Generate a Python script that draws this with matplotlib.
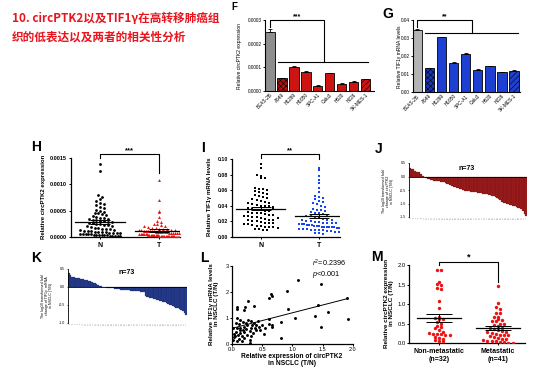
import numpy as np
import matplotlib
matplotlib.use('Agg')
import matplotlib.pyplot as plt

plt.rcParams['font.family'] = ['Liberation Sans', 'DejaVu Sans']
plt.rcParams['hatch.linewidth'] = 0.4
plt.rcParams['mathtext.fontset'] = 'custom'
plt.rcParams['mathtext.it'] = 'Liberation Sans:italic'
plt.rcParams['mathtext.rm'] = 'Liberation Sans'

# ---------------- data ----------------
title_lines = ['10. circPTK2以及TIF1γ在高转移肺癌组', '织的低表达以及两者的相关性分析']

cell_lines = ['BEAS-2B', 'A549', 'H1299', 'H1650', 'SPC-A1', 'Calu3', 'H520', 'H226', 'SK-MES-1']
circ_cell = [2.50e-4, 0.52e-4, 1.02e-4, 0.80e-4, 0.22e-4, 0.73e-4, 0.29e-4, 0.38e-4, 0.49e-4]
circ_cell_err = [0.10e-4, 0.03e-4, 0.04e-4, 0.03e-4, 0.02e-4, 0.02e-4, 0.02e-4, 0.02e-4, 0.02e-4]
tif_cell = [0.0345, 0.0133, 0.0305, 0.0163, 0.0214, 0.0125, 0.0145, 0.0112, 0.0119]
tif_cell_err = [0.0004, 0.0002, 0.0003, 0.0002, 0.0003, 0.0002, 0.0003, 0.0002, 0.0002]

circ_N = np.array([1.38, 1.25, 0.80, 0.76, 0.72, 0.68, 0.65, 0.62, 0.60, 0.57, 0.55, 0.52, 0.50, 0.48,
                   0.46, 0.45, 0.43, 0.42, 0.40, 0.38, 0.37, 0.36, 0.35, 0.34, 0.33, 0.32, 0.31, 0.30,
                   0.29, 0.28, 0.27, 0.26, 0.25, 0.24, 0.23, 0.22, 0.21, 0.20, 0.19, 0.18, 0.17, 0.16,
                   0.15, 0.15, 0.14, 0.13, 0.12, 0.12, 0.11, 0.10, 0.10, 0.09, 0.09, 0.08, 0.08, 0.07,
                   0.07, 0.06, 0.06, 0.05, 0.05, 0.05, 0.04, 0.04, 0.04, 0.03, 0.03, 0.03, 0.02, 0.02,
                   0.02, 0.01, 0.01]) * 1e-3
circ_T = np.array([1.08, 0.70, 0.50, 0.47, 0.38, 0.30, 0.28, 0.25, 0.24, 0.22, 0.21, 0.20, 0.19, 0.18,
                   0.17, 0.16, 0.15, 0.15, 0.14, 0.14, 0.13, 0.13, 0.12, 0.12, 0.12, 0.11, 0.11, 0.11,
                   0.10, 0.10, 0.10, 0.09, 0.09, 0.09, 0.08, 0.08, 0.08, 0.07, 0.07, 0.07, 0.06, 0.06,
                   0.06, 0.05, 0.05, 0.05, 0.05, 0.04, 0.04, 0.04, 0.04, 0.03, 0.03, 0.03, 0.03, 0.03,
                   0.02, 0.02, 0.02, 0.02, 0.02, 0.02, 0.01, 0.01, 0.01, 0.01, 0.01, 0.01, 0.01, 0.005,
                   0.005, 0.005, 0.005]) * 1e-3

tif_N = [0.093, 0.089, 0.079, 0.078, 0.076, 0.075, 0.063, 0.062, 0.061, 0.060, 0.059, 0.058,
         0.056, 0.055, 0.054, 0.052, 0.051, 0.050, 0.048, 0.047, 0.046, 0.045, 0.044, 0.043,
         0.042, 0.041, 0.040, 0.040, 0.039, 0.038, 0.037, 0.036, 0.035, 0.034, 0.033, 0.032,
         0.031, 0.030, 0.030, 0.029, 0.028, 0.027, 0.026, 0.025, 0.025, 0.024, 0.023, 0.022,
         0.022, 0.021, 0.020, 0.020, 0.019, 0.018, 0.018, 0.017, 0.016, 0.016, 0.015, 0.014,
         0.014, 0.013, 0.012, 0.012, 0.011, 0.010, 0.010, 0.009, 0.008, 0.028, 0.033, 0.036, 0.024]
tif_T = [0.089, 0.086, 0.078, 0.073, 0.069, 0.063, 0.058, 0.052, 0.051, 0.050, 0.048, 0.046,
         0.045, 0.043, 0.042, 0.040, 0.038, 0.036, 0.035, 0.034, 0.033, 0.032, 0.031, 0.030,
         0.029, 0.028, 0.027, 0.026, 0.025, 0.024, 0.023, 0.022, 0.022, 0.021, 0.020, 0.020,
         0.019, 0.019, 0.018, 0.018, 0.017, 0.017, 0.016, 0.016, 0.016, 0.015, 0.015, 0.015,
         0.014, 0.014, 0.014, 0.013, 0.013, 0.013, 0.012, 0.012, 0.012, 0.011, 0.011, 0.010,
         0.010, 0.010, 0.009, 0.009, 0.008, 0.008, 0.007, 0.007, 0.006, 0.006, 0.005, 0.005, 0.004]

log_fc_circ = [0.30, 0.29, 0.28, 0.20, 0.18, 0.16, 0.15, 0.10, 0.02, -0.02,
               -0.05, -0.08, -0.10, -0.12, -0.14, -0.15, -0.16, -0.17, -0.18, -0.19,
               -0.20, -0.21, -0.23, -0.26, -0.29, -0.32, -0.35, -0.38, -0.40, -0.42,
               -0.44, -0.46, -0.48, -0.50, -0.52, -0.53, -0.54, -0.55, -0.56, -0.57,
               -0.58, -0.59, -0.60, -0.61, -0.62, -0.63, -0.64, -0.65, -0.66, -0.67,
               -0.69, -0.71, -0.73, -0.76, -0.79, -0.83, -0.88, -0.93, -0.97, -0.99,
               -1.00, -1.02, -1.04, -1.06, -1.08, -1.10, -1.12, -1.15, -1.18, -1.22,
               -1.28, -1.38, -1.45]
log_fc_tif = [0.40, 0.33, 0.29, 0.27, 0.26, 0.25, 0.24, 0.23, 0.22, 0.21,
              0.20, 0.19, 0.18, 0.16, 0.14, 0.12, 0.10, 0.08, 0.06, 0.04,
              0.02, 0.00, -0.01, -0.02, -0.03, -0.03, -0.04, -0.04, -0.05, -0.05,
              -0.06, -0.06, -0.07, -0.07, -0.08, -0.08, -0.09, -0.09, -0.10, -0.10,
              -0.11, -0.11, -0.12, -0.12, -0.13, -0.13, -0.14, -0.25, -0.27, -0.28,
              -0.30, -0.31, -0.33, -0.34, -0.36, -0.37, -0.39, -0.40, -0.42, -0.43,
              -0.45, -0.47, -0.49, -0.51, -0.53, -0.55, -0.57, -0.59, -0.61, -0.64,
              -0.67, -0.72, -0.77]
sample_ids = [str(i + 1) for i in range(73)]

corr_x = [1.095, 1.48, 0.905, 0.65, 0.66, 0.605, 0.27, 0.22, 0.36, 0.086, 0.075, 0.20, 0.92, 1.42,
          1.585, 1.37, 1.04, 1.90, 1.92, 1.48, 0.62, 0.61, 0.66, 0.67, 0.81, 0.81, 0.53,
          0.09, 0.14, 0.19, 0.23, 0.27, 0.32, 0.36, 0.25, 0.20, 0.13, 0.075, 0.33, 0.40, 0.45,
          0.49, 0.39, 0.29, 0.20, 0.14, 0.06, 0.03, 0.10, 0.17, 0.25, 0.32, 0.04, 0.12, 0.20,
          0.29, 0.075, 0.16, 0.02, 0.35, 0.06, 0.02, 0.23, 0.14, 0.31, 0.46, 0.55,
          0.43, 0.12, 0.30, 0.05, 0.38, 0.18]
corr_y = [2.47, 2.28, 2.03, 1.90, 1.84, 1.75, 1.65, 1.43, 1.47, 1.43, 1.34, 1.30, 1.34, 1.49,
          1.22, 1.08, 0.99, 1.75, 0.95, 0.66, 0.95, 0.76, 0.73, 0.67, 0.86, 0.23, 0.39,
          0.99, 0.92, 0.86, 0.80, 0.92, 0.90, 0.80, 0.71, 0.67, 0.63, 0.61, 0.71, 0.73, 0.67,
          0.71, 0.54, 0.51, 0.46, 0.42, 0.46, 0.38, 0.33, 0.29, 0.35, 0.29, 0.25, 0.20, 0.23,
          0.16, 0.13, 0.10, 0.16, 0.42, 0.80, 0.63, 0.59, 0.53, 0.63, 0.54, 0.61,
          0.88, 0.78, 0.05, 0.30, 0.62, 0.55]
fit_slope = 0.595
fit_intercept = 0.60
r2_text = '$r^2$=0.2396'
p_text = '$p$<0.001'

met_labels = ['Non-metastatic\n(n=32)', 'Metastatic\n(n=41)']
non_met = [1.88, 1.88, 1.57, 1.52, 1.48, 1.42, 1.38, 1.08, 0.90, 0.68, 0.65, 0.63, 0.62, 0.55,
           0.50, 0.45, 0.42, 0.38, 0.35, 0.30, 0.26, 0.25, 0.24, 0.24, 0.22, 0.20, 0.15, 0.14,
           0.12, 0.08, 0.06, 0.05]
met = [1.46, 1.02, 0.93, 0.88, 0.78, 0.78, 0.68, 0.66, 0.62, 0.60, 0.58, 0.58, 0.50, 0.50,
       0.48, 0.45, 0.40, 0.38, 0.36, 0.34, 0.32, 0.30, 0.28, 0.26, 0.25, 0.22, 0.20, 0.20,
       0.18, 0.16, 0.14, 0.12, 0.10, 0.08, 0.07, 0.06, 0.05, 0.04, 0.03, 0.02, 0.02]

# ---------------- layout helpers ----------------
W, H = 554, 371
fig = plt.figure(figsize=(W / 100, H / 100), dpi=100)
fig.patch.set_facecolor('white')


def add_ax(x0, y0, x1, y1):
    ax = fig.add_axes([x0 / W, 1 - y1 / H, (x1 - x0) / W, (y1 - y0) / H])
    for s in ('top', 'right'):
        ax.spines[s].set_visible(False)
    ax.patch.set_alpha(0)
    return ax


def ftext(x, y, s, **kw):
    fig.text(x / W, 1 - y / H, s, **kw)


def style(ax, lw=0.9, tl=1.5, fs=4):
    for s in ('left', 'bottom'):
        ax.spines[s].set_linewidth(lw)
    ax.tick_params(width=lw * 0.8, length=tl, labelsize=fs, pad=1)


def rows_layout(vals, py, px, bh=4.0, sp=4.0, maxw=40.0):
    """Prism-like scatter-dot layout: values binned in rows, spread horizontally."""
    vals = np.asarray(vals, float)
    bins = np.floor(vals * py / bh).astype(int)
    xs = np.zeros(len(vals))
    for b in np.unique(bins):
        ids = np.where(bins == b)[0]
        n = len(ids)
        s = sp if (n - 1) * sp <= maxw else maxw / max(n - 1, 1)
        offs = (np.arange(n) - (n - 1) / 2) * s
        xs[ids] = offs / px
    return xs


def mean_sem(ax, x, vals, half=0.42, cap=0.17, lw=0.9, px=58):
    v = np.asarray(vals, float)
    m = v.mean()
    se = v.std(ddof=1) / np.sqrt(len(v))
    ax.plot([x - half, x + half], [m, m], color='black', lw=lw, zorder=5)
    ax.errorbar([x], [m], yerr=[se], fmt='none', ecolor='black', elinewidth=lw * 0.8,
                capsize=cap * px * 0.72, capthick=lw * 0.8, zorder=5)


def bracket(ax, x0, x1, ytop, yl, yr, text, fs=5.5, tdy=0):
    ax.plot([x0, x0, x1, x1], [yl, ytop, ytop, yr], color='black', lw=0.8, clip_on=False)
    ax.text((x0 + x1) / 2, ytop + tdy, text, ha='center', va='bottom', fontsize=fs,
            fontweight='bold', clip_on=False)


# ---------------- title ----------------
for i, line in enumerate(title_lines):
    ftext(12, 18 + 19.5 * i, line, fontsize=8.4, fontweight='bold', color='#e8141e',
          family=['Noto Sans CJK SC', 'DejaVu Sans'], va='center')

# ---------------- F ----------------
hatches = ['', 'xxxxxx', '', '', '', '', '', '', '//////']
axF = add_ax(265, 20, 374, 90.7)
cF = ['#8e8e8e'] + ['#b01010' if i == 1 else '#cc1414' for i in range(1, 9)]
xF = np.arange(len(cell_lines))
barsF = axF.bar(xF, circ_cell, width=0.78, color=cF, edgecolor='black', linewidth=0.6)
for b, h in zip(barsF, hatches):
    b.set_hatch(h)
axF.errorbar(xF, circ_cell, yerr=[np.zeros(9), circ_cell_err], fmt='none', ecolor='black',
             elinewidth=0.6, capsize=1.2, capthick=0.6)
axF.set_xlim(-0.42, 8.7)
axF.set_ylim(0, 0.0003)
axF.set_yticks([0, 0.0001, 0.0002, 0.0003])
axF.set_yticklabels(['0.0000', '0.0001', '0.0002', '0.0003'])
axF.set_xticks(xF)
axF.set_xticklabels(cell_lines, rotation=45, ha='right', rotation_mode='anchor')
style(axF, lw=0.8, tl=1.2, fs=3.4)
axF.tick_params(axis='x', length=0)
bracket(axF, 0, 4.5, 0.0003, 0.00027, 0.000123, '***', fs=5)
axF.plot([0.64, 8.2], [0.000123, 0.000123], color='black', lw=0.8, clip_on=False)
ftext(239, 56, 'Relative circPTK2 expression', rotation=90, fontsize=3.6, ha='center', va='center')
ftext(231, 10, 'F', fontsize=7, fontweight='bold', va='baseline')

# ---------------- G ----------------
axG = add_ax(413, 20, 520, 92.3)
cG = ['#b4b4b4'] + ['#1a36b8' if i == 1 else '#1d40d2' for i in range(1, 9)]
barsG = axG.bar(xF, tif_cell, width=0.78, color=cG, edgecolor='black', linewidth=0.6)
for b, h in zip(barsG, hatches):
    b.set_hatch(h)
axG.errorbar(xF, tif_cell, yerr=[np.zeros(9), tif_cell_err], fmt='none', ecolor='black',
             elinewidth=0.6, capsize=1.2, capthick=0.6)
axG.set_xlim(-0.36, 8.5)
axG.set_ylim(0, 0.04)
axG.set_yticks([0, 0.01, 0.02, 0.03, 0.04])
axG.set_yticklabels(['0.00', '0.01', '0.02', '0.03', '0.04'])
axG.set_xticks(xF)
axG.set_xticklabels(cell_lines, rotation=45, ha='right', rotation_mode='anchor')
style(axG, lw=0.8, tl=1.2, fs=3.4)
axG.tick_params(axis='x', length=0)
bracket(axG, 0, 4.54, 0.04, 0.036, 0.033, '**', fs=5)
axG.plot([0.6, 8.37], [0.033, 0.033], color='black', lw=0.8, clip_on=False)
ftext(399, 57, 'Relative TIF1γ mRNA levels', rotation=90, fontsize=3.6, ha='center', va='center')
ftext(382, 18, 'G', fontsize=10, fontweight='bold', va='baseline')

# ---------------- H ----------------
axH = add_ax(70.7, 158, 180, 237)
pyH = (237 - 158) / 0.0015
pxH = (180 - 70.7) / 1.85
axH.scatter(rows_layout(circ_N, pyH, pxH, 3.6, 3.8, 40), circ_N, s=4, color='black',
            marker='o', lw=0, zorder=3)
axH.scatter(1 + rows_layout(circ_T, pyH, pxH, 3.6, 3.8, 40), circ_T, s=4.5, color='#ee1111',
            marker='^', lw=0, zorder=3)
mean_sem(axH, 0, circ_N, px=pxH)
mean_sem(axH, 1, circ_T, px=pxH)
axH.set_xlim(-0.5, 1.35)
axH.set_ylim(0, 0.0015)
axH.set_yticks([0, 0.0005, 0.0010, 0.0015])
axH.set_yticklabels(['0.0000', '0.0005', '0.0010', '0.0015'], fontweight='bold')
axH.set_xticks([0, 1])
axH.set_xticklabels(['N', 'T'], fontweight='bold', fontsize=5)
style(axH, lw=0.9, tl=1.5, fs=4)
axH.tick_params(axis='x', labelsize=5, pad=2)
bracket(axH, 0, 1, 0.00158, 0.0015, 0.00121, '***', fs=5.5)
ftext(43, 197, 'Relative circPTK2 expression', rotation=90, fontsize=4.3, fontweight='bold',
      ha='center', va='center')
ftext(31, 151, 'H', fontsize=10, fontweight='bold', va='baseline')

# ---------------- I ----------------
axI = add_ax(231.7, 159, 340, 236.7)
pyI = (236.7 - 159) / 0.10
pxI = (340 - 231.7) / 1.86
axI.scatter(rows_layout(tif_N, pyI, pxI, 4.2, 4.2, 40), tif_N, s=3.5, color='black', marker='s',
            lw=0, zorder=3)
axI.scatter(1 + rows_layout(tif_T, pyI, pxI, 4.2, 4.2, 40), tif_T, s=3.5, color='#1744f0',
            marker='s', lw=0, zorder=3)
mean_sem(axI, 0, tif_N, px=pxI)
mean_sem(axI, 1, tif_T, px=pxI)
axI.set_xlim(-0.5, 1.36)
axI.set_ylim(0, 0.10)
axI.set_yticks([0, 0.02, 0.04, 0.06, 0.08, 0.10])
axI.set_yticklabels(['0.00', '0.02', '0.04', '0.06', '0.08', '0.10'], fontweight='bold')
axI.set_xticks([0, 1])
axI.set_xticklabels(['N', 'T'], fontweight='bold')
style(axI, lw=0.9, tl=1.5, fs=3.7)
axI.tick_params(axis='x', labelsize=5, pad=2)
bracket(axI, 0, 1, 0.1064, 0.1008, 0.0995, '**', fs=5.5)
ftext(210, 197, 'Relative TIF1γ mRNA levels', rotation=90, fontsize=4.3, fontweight='bold',
      ha='center', va='center')
ftext(201, 152, 'I', fontsize=10, fontweight='bold', va='baseline')

# ---------------- J ----------------
axJ = add_ax(409, 163, 527, 217)
idx = np.arange(len(log_fc_circ))
axJ.bar(idx, log_fc_circ, width=1.0, color='#a01c1c', edgecolor='#5c0e0e', linewidth=0.15)
axJ.axhline(0, color='black', lw=0.6)
axJ.spines['bottom'].set_visible(False)
axJ.set_xlim(-0.6, len(idx) - 0.4)
axJ.set_ylim(-1.5, 0.5)
axJ.set_yticks([0.5, 0.0, -0.5, -1.0, -1.5])
axJ.set_yticklabels(['0.5', '0.0', '-0.5', '-1.0', '-1.5'])
axJ.set_xticks(idx)
axJ.set_xticklabels(sample_ids, rotation=90, fontsize=1.0, color='#666666')
style(axJ, lw=0.6, tl=1.0, fs=2.6)
axJ.tick_params(axis='x', length=0, pad=0.5, labelsize=1.0)
ftext(467, 168, 'n=73', fontsize=5, fontweight='bold', ha='center', va='center')
ftext(388, 191, 'The log10 transformed fold\nchange of circPTK2\nin NSCLC (T/N)', rotation=90,
      fontsize=2.6, ha='center', va='center', linespacing=1.1)
ftext(375, 153, 'J', fontsize=10, fontweight='bold', va='baseline')

# ---------------- K ----------------
axK = add_ax(68, 269, 187, 323)
axK.bar(idx, log_fc_tif, width=1.0, color='#263d8e', edgecolor='#14245c', linewidth=0.15)
axK.axhline(0, color='black', lw=0.6)
axK.spines['bottom'].set_visible(False)
axK.set_xlim(-0.6, len(idx) - 0.4)
axK.set_ylim(-1.0, 0.5)
axK.set_yticks([0.5, 0.0, -0.5, -1.0])
axK.set_yticklabels(['0.5', '0.0', '-0.5', '-1.0'])
axK.set_xticks(idx)
axK.set_xticklabels(sample_ids, rotation=90, fontsize=1.0, color='#666666')
style(axK, lw=0.6, tl=1.0, fs=2.6)
axK.tick_params(axis='x', length=0, pad=0.5, labelsize=1.0)
ftext(127, 273, 'n=73', fontsize=5, fontweight='bold', ha='center', va='center')
ftext(47, 296, 'The log10 transformed fold\nchange of TIF1γ  mRNA\nin NSCLC (T/N)', rotation=90,
      fontsize=2.6, ha='center', va='center', linespacing=1.1)
ftext(31, 262, 'K', fontsize=10, fontweight='bold', va='baseline')

# ---------------- L ----------------
axL = add_ax(232, 265.7, 352.7, 344)
axL.scatter(corr_x, corr_y, s=4.5, color='black', lw=0, zorder=3)
xfit = np.array([0.0, max(corr_x) - 0.02])
axL.plot(xfit, fit_intercept + fit_slope * xfit, color='black', lw=0.7)
axL.set_xlim(0, 2)
axL.set_ylim(0, 3)
axL.set_xticks([0, 0.5, 1.0, 1.5, 2.0])
axL.set_xticklabels(['0.0', '0.5', '1.0', '1.5', '2.0'])
axL.set_yticks([0, 1, 2, 3])
style(axL, lw=0.9, tl=1.5, fs=4)
ftext(312, 263, r2_text, fontsize=5.2, va='center')
ftext(312, 274, p_text, fontsize=5.2, va='center')
ftext(214, 304, 'Relative TIF1γ mRNA levels\nin NSCLC (T/N)', rotation=90, fontsize=4.5,
      fontweight='bold', ha='center', va='center', linespacing=1.1)
ftext(292, 360, 'Relative expression of circPTK2\nin NSCLC (T/N)', fontsize=4.8,
      fontweight='bold', ha='center', va='center', linespacing=1.1)
ftext(200, 262, 'L', fontsize=10, fontweight='bold', va='baseline')

# ---------------- M ----------------
axM = add_ax(409, 265, 525, 343.3)
pyM = (343.3 - 265) / 2.0
pxM = (525 - 409) / 1.97
axM.scatter(rows_layout(non_met, pyM, pxM, 3.8, 4.2, 42), non_met, s=6, color='#ee1111', lw=0,
            zorder=3)
axM.scatter(1 + rows_layout(met, pyM, pxM, 3.8, 4.2, 42), met, s=6, color='#ee1111', lw=0,
            zorder=3)
mean_sem(axM, 0, non_met, half=0.37, cap=0.22, px=pxM)
mean_sem(axM, 1, met, half=0.37, cap=0.22, px=pxM)
axM.set_xlim(-0.51, 1.46)
axM.set_ylim(0, 2.0)
axM.set_yticks([0, 0.5, 1.0, 1.5, 2.0])
axM.set_yticklabels(['0.0', '0.5', '1.0', '1.5', '2.0'])
axM.set_xticks([0, 1])
axM.set_xticklabels(met_labels, fontweight='bold', linespacing=1.2)
style(axM, lw=0.9, tl=1.5, fs=4.2)
axM.tick_params(axis='x', labelsize=5, pad=2)
bracket(axM, 0, 1, 2.08, 2.0, 1.57, '*', fs=6.5)
ftext(389, 303, 'Relative circPTK2 expression\nin NSCLC (T/N)', rotation=90, fontsize=4.6,
      fontweight='bold', ha='center', va='center', linespacing=1.2)
ftext(371, 261, 'M', fontsize=10, fontweight='bold', va='baseline')

fig.savefig('out.png', dpi=100, facecolor='white')
